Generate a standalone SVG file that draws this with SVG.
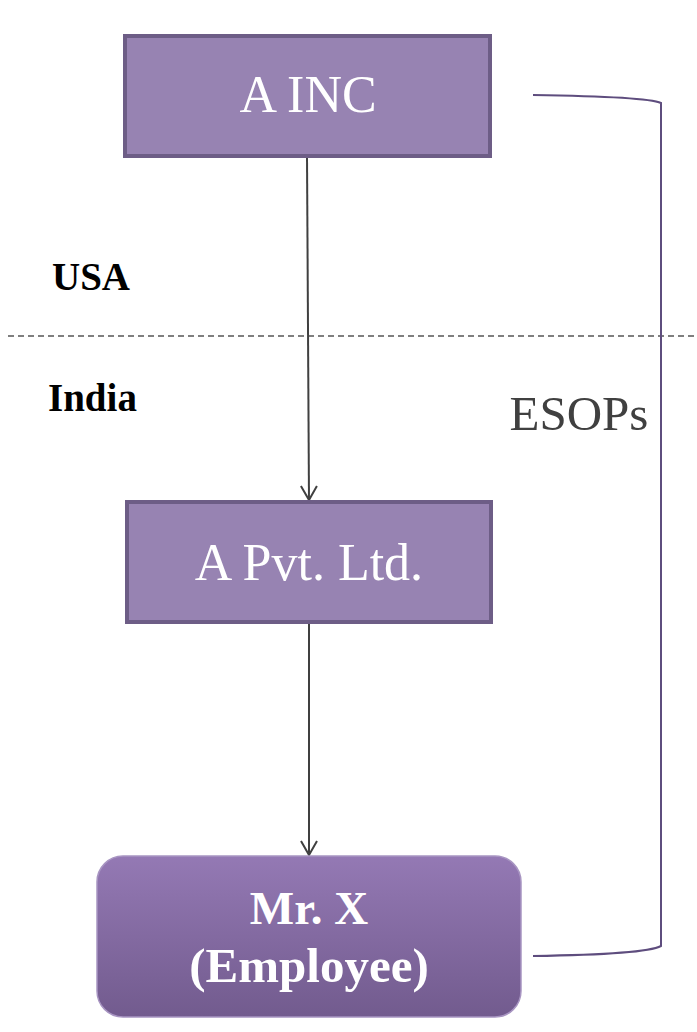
<svg xmlns="http://www.w3.org/2000/svg" width="697" height="1032" viewBox="0 0 697 1032">
<style>
.box{fill:#9783b2;stroke:#6d5d86;stroke-width:4}
.lbl{font-family:"Liberation Serif","Times New Roman",serif;fill:#ffffff;text-anchor:middle}
.arr{stroke:#404040;stroke-width:2;fill:none}
.side{font-family:"Liberation Serif","Times New Roman",serif;font-weight:bold;fill:#000000}
</style>
<defs>
<linearGradient id="g" x1="0" y1="0" x2="0" y2="1">
<stop offset="0" stop-color="#9479b4"/>
<stop offset="1" stop-color="#725b8e"/>
</linearGradient>
<marker id="ah" markerWidth="20" markerHeight="20" viewBox="0 0 20 20" refX="18" refY="10" orient="auto" markerUnits="userSpaceOnUse">
<path d="M4 2 L18 10 L4 18" fill="none" stroke="#404040" stroke-width="2"/>
</marker>
</defs>
<line x1="8" y1="336" x2="697" y2="336" stroke="#555555" stroke-width="1.5" stroke-dasharray="6,4"/>
<text class="side" x="52" y="290" font-size="39">USA</text>
<text class="side" x="48" y="411" font-size="39">India</text>
<g id="connectors">
<path class="arr" d="M307 156 L309 500" marker-end="url(#ah)"/>
<path class="arr" d="M309 623 L309 855" marker-end="url(#ah)"/>
<path d="M533 95 C600 96 650 98 661 103 L661 946 C650 952 600 955 533 956" fill="none" stroke="#5e4d7e" stroke-width="2"/>
<text x="579" y="430" font-family="'Liberation Serif','Times New Roman',serif" font-size="49" fill="#404040" text-anchor="middle">ESOPs</text>
</g>
<g id="ainc">
<rect class="box" x="125" y="36" width="365" height="120"/>
<text class="lbl" x="308" y="112" font-size="52">A INC</text>
</g>
<g id="apvt">
<rect class="box" x="127" y="502" width="364" height="120"/>
<text class="lbl" x="309" y="580" font-size="52">A Pvt. Ltd.</text>
</g>
<g id="mrx">
<rect x="97" y="856" width="424" height="161" rx="26" fill="url(#g)" stroke="#a895c2" stroke-width="1.5"/>
<text class="lbl" x="309" y="924" font-size="47" font-weight="bold">Mr. X</text>
<text class="lbl" x="309" y="982" font-size="49" font-weight="bold">(Employee)</text>
</g>
</svg>
